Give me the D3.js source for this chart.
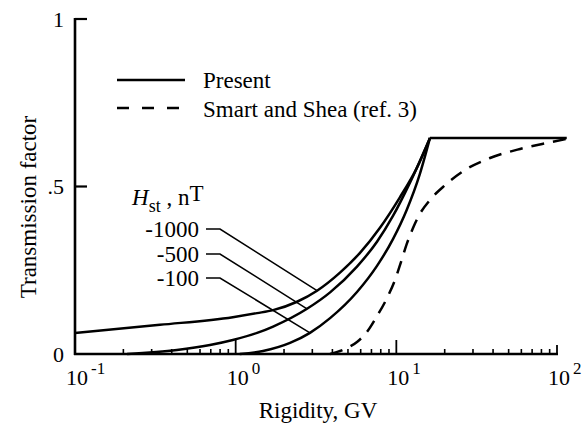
<!DOCTYPE html>
<html><head><meta charset="utf-8">
<script src="https://cdn.jsdelivr.net/npm/d3@7"></script>
<style>body{margin:0;background:#fff}svg{display:block}text{font-family:"Liberation Serif","Times New Roman",serif;fill:#000}</style>
</head><body><svg id="c" width="585" height="431"></svg>
<script>
// ---- data (rigidity GV, transmission factor) ----
const h1000R = [0.1, 0.338, 0.96, 1.36, 1.71, 2.41, 3.21, 4.46, 5.94, 7.91, 10.5, 13.4, 16.2];
const h1000T = [0.063, 0.087, 0.110, 0.122, 0.131, 0.156, 0.189, 0.243, 0.302, 0.377, 0.467, 0.555, 0.645];
const h500R  = [0.211, 0.431, 0.692, 0.96, 1.36, 1.71, 2.78, 3.87, 5.69, 7.58, 9.53, 12.2, 16.2];
const h500T  = [0.0, 0.012, 0.027, 0.042, 0.063, 0.082, 0.135, 0.184, 0.261, 0.335, 0.412, 0.513, 0.645];
const h100R  = [1.06, 1.48, 2.18, 2.90, 3.87, 5.69, 7.58, 9.53, 11.6, 14.0, 16.2];
const h100T  = [0.0, 0.009, 0.033, 0.063, 0.107, 0.185, 0.263, 0.343, 0.430, 0.537, 0.645];
const plateauR = [16.2, 115];
const plateauT = [0.645, 0.645];
const smartR = [3.87, 4.79, 5.69, 6.57, 7.58, 8.75, 9.81, 10.7, 11.6, 12.7, 14.0, 16.2, 20.1, 26.7, 38.3, 58.9, 86.7, 115];
const smartT = [0.0, 0.015, 0.036, 0.066, 0.113, 0.167, 0.221, 0.275, 0.328, 0.376, 0.418, 0.46, 0.504, 0.549, 0.585, 0.612, 0.630, 0.642];
const hstLabels = ["-1000", "-500", "-100"];
const hstTargetR = [3.21, 2.78, 2.90];
const hstTargetT = [0.189, 0.135, 0.063];
const xMajor = [0.1, 1, 10, 100];
const xMajorExp = ["-1", "0", "1", "2"];
const yTicks = [0, 0.5, 1];
const yTickLabels = ["0", ".5", "1"];

const svg = d3.select("#c");
const x = d3.scaleLog().domain([0.1, 100]).range([75, 557]);
const y = d3.scaleLinear().domain([0, 1]).range([354, 19]);

const line = d3.line().x(d => x(d[0])).y(d => y(d[1])).curve(d3.curveMonotoneX);
const zip = (a, b) => a.map((v, i) => [v, b[i]]);

// axes
const ax = svg.append("g").attr("stroke", "#000").attr("fill", "none");
ax.append("line").attr("x1", x(0.1)).attr("x2", x(0.1)).attr("y1", y(0)+1).attr("y2", y(1)-1).attr("stroke-width", 2.6);
ax.append("line").attr("x1", x(0.1)-1).attr("x2", x(100)+1).attr("y1", y(0)).attr("y2", y(0)).attr("stroke-width", 2.6);
[0.5, 1].forEach(v => ax.append("line").attr("x1", x(0.1)).attr("x2", x(0.1)+12).attr("y1", y(v)).attr("y2", y(v)).attr("stroke-width", 2.2));
const minor = [];
for (let d = 0.1; d < 100; d *= 10) for (let k = 2; k <= 9; k++) minor.push(d * k);
minor.forEach(v => ax.append("line").attr("x1", x(v)).attr("x2", x(v)).attr("y1", y(0)).attr("y2", y(0)-5).attr("stroke-width", 1.6));
xMajor.slice(1).forEach((v, i) => ax.append("line").attr("x1", x(v)).attr("x2", x(v)).attr("y1", y(0)).attr("y2", y(0)-(i === 2 ? 9 : 14)).attr("stroke-width", 1.8));

// tick labels
yTicks.forEach((v, i) => svg.append("text").attr("x", 64).attr("y", y(v)).attr("dy", "0.35em")
  .attr("text-anchor", "end").attr("font-size", 22).text(yTickLabels[i]));
xMajor.forEach((v, i) => {
  const t = svg.append("text").attr("x", x(v) - 9).attr("y", 385).attr("font-size", 22);
  t.append("tspan").text("10");
  t.append("tspan").attr("dy", -11).attr("dx", 3).attr("font-size", 17).text(xMajorExp[i]);
});

// axis titles
svg.append("text").attr("transform", "translate(36,207) rotate(-90)").attr("text-anchor", "middle")
  .attr("font-size", 23).text("Transmission factor");
svg.append("text").attr("x", 318).attr("y", 418).attr("text-anchor", "middle").attr("font-size", 23).text("Rigidity, GV");

// curves
const cg = svg.append("g").attr("fill", "none").attr("stroke", "#000").attr("stroke-width", 2.5);
[[h1000R, h1000T], [h500R, h500T], [h100R, h100T]].forEach(([r, t]) => cg.append("path").attr("d", line(zip(r, t))));
cg.append("path").attr("d", d3.line().x(d => x(d[0])).y(d => y(d[1]))(zip(plateauR, plateauT)));
cg.append("path").attr("d", line(zip(smartR, smartT))).attr("stroke-dasharray", "13,9");

// legend
const lg = svg.append("g");
lg.append("line").attr("x1", 117).attr("x2", 185).attr("y1", 80).attr("y2", 80).attr("stroke", "#000").attr("stroke-width", 2.6);
lg.append("line").attr("x1", 117).attr("x2", 183).attr("y1", 108).attr("y2", 108).attr("stroke", "#000").attr("stroke-width", 2.6).attr("stroke-dasharray", "12,13");
lg.append("text").attr("x", 203).attr("y", 88).attr("font-size", 23).text("Present");
lg.append("text").attr("x", 203).attr("y", 117).attr("font-size", 23).text("Smart and Shea (ref. 3)");

// Hst annotation
const ht = svg.append("text").attr("x", 132).attr("y", 205).attr("font-size", 23);
ht.append("tspan").attr("font-style", "italic").text("H");
ht.append("tspan").attr("dy", 7).attr("font-size", 18).text("st");
ht.append("tspan").attr("dy", -7).text(" , n");
ht.append("tspan").attr("dy", -4).text("T");
const labY = [229, 254, 278];
hstLabels.forEach((s, i) => {
  svg.append("text").attr("x", 199).attr("y", labY[i]).attr("dy", "0.35em").attr("text-anchor", "end").attr("font-size", 23).text(s);
  svg.append("polyline").attr("fill", "none").attr("stroke", "#000").attr("stroke-width", 1.5)
    .attr("points", [[206, labY[i]], [220, labY[i]], [x(hstTargetR[i]), y(hstTargetT[i])]].map(p => p.join(",")).join(" "));
});
</script></body></html>
